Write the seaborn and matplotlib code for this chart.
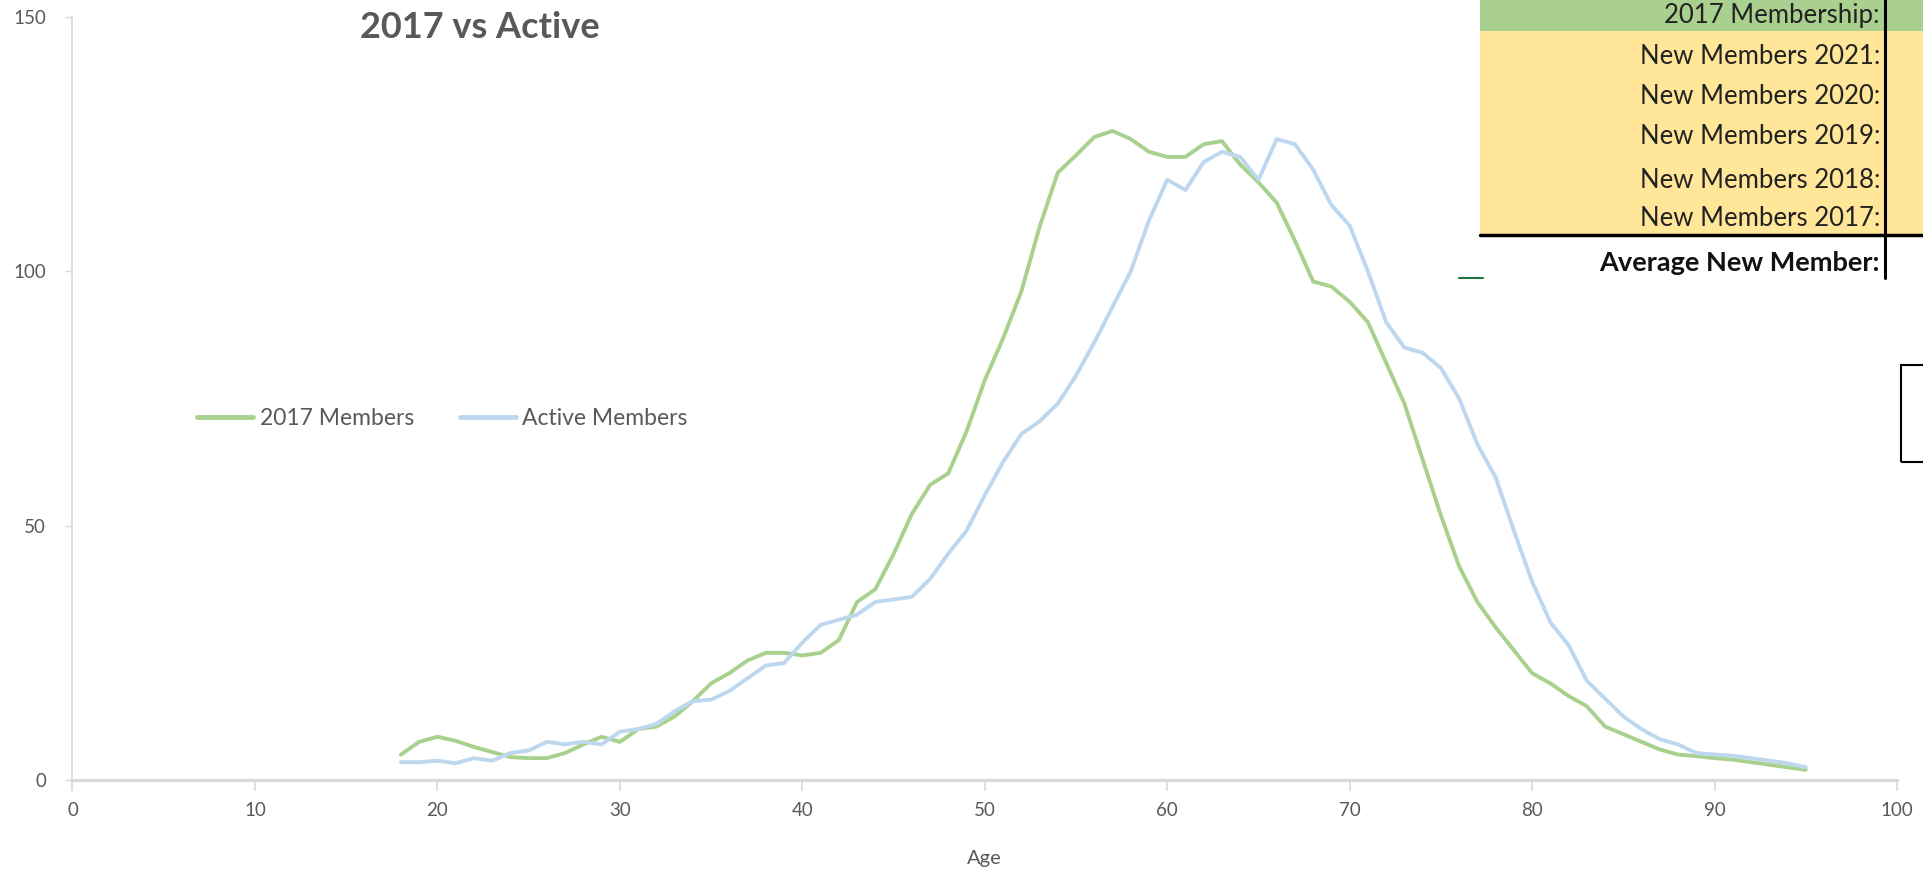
import pandas as pd
import matplotlib.pyplot as plt
import seaborn as sns
from matplotlib.patches import Rectangle
from matplotlib.lines import Line2D

# member counts by age
ages = list(range(18, 96))

members_2017 = [
    5, 7.5, 8.5, 7.7, 6.5, 5.5, 4.5, 4.3, 4.3, 5.3,        # 18-27
    7, 8.5, 7.5, 10, 10.5, 12.5, 15.5, 19, 21, 23.5,        # 28-37
    25, 25, 24.5, 25, 27.5, 35, 37.5, 44.4, 52.3, 58,       # 38-47
    60.3, 68.5, 78.6, 86.8, 96, 108.7, 119.4, 122.8, 126.4, 127.6,  # 48-57
    126, 123.5, 122.5, 122.5, 125, 125.6, 121, 117.5, 113.5, 106,   # 58-67
    98, 97, 94, 90, 82, 74, 63, 52, 42, 35,                 # 68-77
    30, 25.5, 21, 19, 16.5, 14.5, 10.5, 9, 7.5, 6,          # 78-87
    5, 4.7, 4.3, 4, 3.5, 3, 2.5, 2,                         # 88-95
]

active_members = [
    3.5, 3.5, 3.8, 3.3, 4.3, 3.8, 5.3, 5.8, 7.5, 7,         # 18-27
    7.5, 7, 9.5, 10, 11, 13.5, 15.5, 15.8, 17.5, 20,        # 28-37
    22.5, 23, 27, 30.5, 31.5, 32.5, 35, 35.5, 36, 39.5,     # 38-47
    44.5, 49, 56, 62.5, 68, 70.5, 74, 79.5, 86, 93,         # 48-57
    100, 110, 118, 116, 121.5, 123.5, 122.5, 118, 126, 125, # 58-67
    120, 113, 109, 100, 90, 85, 84, 81, 75, 66,             # 68-77
    59.5, 49, 39, 31, 26.5, 19.5, 16, 12.5, 10, 8,          # 78-87
    7, 5.3, 5, 4.8, 4.3, 3.8, 3.3, 2.5,                     # 88-95
]

table_rows = ["New Members 2021:", "New Members 2020:", "New Members 2019:",
              "New Members 2018:", "New Members 2017:"]

df = pd.DataFrame({
    "Age": ages * 2,
    "Count": members_2017 + active_members,
    "Series": ["2017 Members"] * len(ages) + ["Active Members"] * len(ages),
})

sns.set_style("white")
plt.rcParams["font.family"] = ["Lato", "DejaVu Sans"]

GREEN = "#A9D18E"
BLUE = "#BDD7EE"
GREY_TXT = "#595959"
AXIS = "#D9D9D9"

fig = plt.figure(figsize=(19.23, 8.72), dpi=100)
ax = fig.add_axes([0.0377, 0.1055, 0.9488, 0.875])

sns.lineplot(data=df, x="Age", y="Count", hue="Series",
             palette={"2017 Members": GREEN, "Active Members": BLUE},
             linewidth=2.8, ax=ax, legend=False)

ax.set_xlim(0, 100)
ax.set_ylim(0, 150)
ax.set_xticks(range(0, 101, 10))
ax.set_yticks([0, 50, 100, 150])
ax.set_xlabel("Age", fontsize=14.5, color=GREY_TXT, labelpad=22)
ax.set_ylabel("")
ax.tick_params(axis="x", colors=AXIS, labelcolor=GREY_TXT, labelsize=13.5,
               length=8, width=1.2, pad=8, direction="out", bottom=True)
ax.tick_params(axis="y", colors=AXIS, labelcolor=GREY_TXT, labelsize=13.5,
               length=5, width=1, pad=14, direction="out", left=True)
sns.despine(ax=ax)
ax.spines["left"].set_color(AXIS)
ax.spines["left"].set_linewidth(1.2)
ax.spines["bottom"].set_color(AXIS)
ax.spines["bottom"].set_linewidth(2.2)

# legend sits inside the plot area on the left
handles = [Line2D([], [], color=GREEN, lw=3.5), Line2D([], [], color=BLUE, lw=3.5)]
ax.legend(handles, ["2017 Members", "Active Members"], ncol=2, frameon=False,
          loc="center left", bbox_to_anchor=(0.057, 0.474), fontsize=16.5,
          labelcolor=GREY_TXT, handlelength=2.45, handletextpad=0.28, columnspacing=2.0)

fig.text(480 / 1923, 1 - 27 / 872, "2017 vs Active", ha="center", va="center",
         fontsize=26, fontweight="bold", color=GREY_TXT)

# spreadsheet cells bleeding into the screenshot, top right
W, H = 1923, 872
def px_rect(x0, y0, x1, y1, **kw):
    fig.patches.append(Rectangle((x0 / W, 1 - y1 / H), (x1 - x0) / W, (y1 - y0) / H,
                                 transform=fig.transFigure, **kw))

px_rect(1480, 0, 1923, 31, facecolor="#A9D08E", edgecolor="none")
px_rect(1480, 31, 1923, 235, facecolor="#FFE699", edgecolor="none")
fig.add_artist(Line2D([1480 / W, 1], [1 - 235 / H] * 2, color="black", lw=2.5,
                      transform=fig.transFigure))
fig.add_artist(Line2D([1885 / W] * 2, [1, 1 - 278 / H], color="black", lw=2.2,
                      transform=fig.transFigure))
fig.add_artist(Line2D([1459 / W, 1483 / W], [1 - 278 / H] * 2, color="#217346", lw=1.5,
                      transform=fig.transFigure))
px_rect(1901, 365, 1930, 462, facecolor="none", edgecolor="black", lw=1.5)

fig.text(1880 / W, 1 - 15 / H, "2017 Membership:", ha="right", va="center",
         fontsize=18.5, color="#222222")
for label, yy in zip(table_rows, [56, 96, 136, 180, 219]):
    fig.text(1880 / W, 1 - yy / H, label, ha="right", va="center",
             fontsize=18.5, color="#222222")
fig.text(1880 / W, 1 - 263 / H, "Average New Member:", ha="right", va="center",
         fontsize=19.5, fontweight="bold", color="#111111")

fig.savefig("out.png", dpi=100)
